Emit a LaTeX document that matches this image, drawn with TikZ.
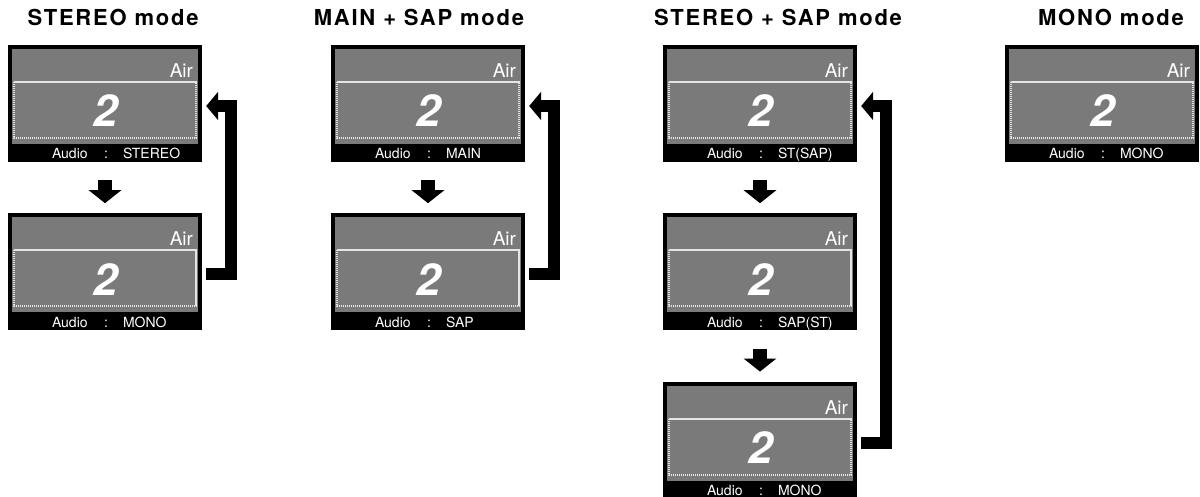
\documentclass[tikz,border=0pt]{standalone}
\usepackage{fontspec}
\setmainfont{TeX Gyre Heros}
\newfontfamily\titlefont[LetterSpace=8]{TeX Gyre Heros}
\usetikzlibrary{arrows.meta,calc,positioning}

\begin{document}
\begin{tikzpicture}[x=1pt, y=-1pt,
        screen/.style={fill=black, minimum width=194pt, minimum height=117pt, inner sep=0pt},
        panel/.style={fill=black!52},
        frame/.style={draw=black!10, line width=2pt, dash pattern=on 1.2pt off 0.8pt},
        title/.style={inner sep=0pt, anchor=base, font=\titlefont\bfseries\fontsize{22}{26}\selectfont},
        air/.style={inner sep=0pt, anchor=base east, text=white, font=\fontsize{19}{22}\selectfont},
        digit/.style={inner sep=0pt, anchor=base, text=white, font=\bfseries\itshape\fontsize{44}{50}\selectfont},
        band/.style={inner sep=0pt, anchor=base west, text=white, font=\fontsize{14}{16}\selectfont},
        down/.style={line width=14pt, -{Triangle[length=13pt,width=32pt]}, shorten <=18pt, shorten >=10pt},
        loop/.style={line width=12pt, line join=miter, -{Triangle[length=12pt,width=28pt]}}]
    \useasboundingbox (0,0) rectangle (1200,497);

    % titles
    \node[title] (t1) at (113,26) {STEREO mode};
    \node[title] (t2) at (419,26) {MAIN + SAP mode};
    \node[title] (t3) at (778,26) {STEREO + SAP mode};
    \node[title] (t4) at (1111,26) {MONO mode};

    % screens
    \node[screen] (st1) at (105,103.5) {};
    \node[screen, below=51pt of st1] (st2) {};
    \node[screen] (ms1) at (428,103.5) {};
    \node[screen, below=51pt of ms1] (ms2) {};
    \node[screen] (ss1) at (760,103.5) {};
    \node[screen, below=51pt of ss1] (ss2) {};
    \node[screen, below=51pt of ss2] (ss3) {};
    \node[screen] (mo1) at (1102,103.5) {};

    \foreach \s/\val in {st1/STEREO, st2/MONO, ms1/MAIN, ms2/SAP, ss1/ST(SAP), ss2/SAP(ST), ss3/MONO, mo1/MONO}{
        \fill[panel] ([shift={(4pt,-4pt)}]\s.north west) rectangle ([shift={(-4pt,-99pt)}]\s.north east);
        \draw[frame] ([shift={(6pt,-37pt)}]\s.north west) rectangle ([shift={(-6pt,-93pt)}]\s.north east);
        \node[air] (\s-air) at ([shift={(-9pt,-32.5pt)}]\s.north east) {Air};
        \node[digit] (\s-num) at ([shift={(1pt,-82pt)}]\s.north) {2};
        \node[band] (\s-lbl) at ([shift={(44pt,-114pt)}]\s.north west) {Audio};
        \node[band] (\s-col) at ([shift={(96pt,-114pt)}]\s.north west) {:};
        \node[band] (\s-val) at ([shift={(115pt,-114pt)}]\s.north west) {\val};
    }

    % step arrows
    \draw[down] (st1) -- (st2);
    \draw[down] (ms1) -- (ms2);
    \draw[down] (ss1) -- (ss2);
    \draw[down] (ss2) -- (ss3);

    % back to the first mode
    \draw[loop] ([shift={(4pt,-2.5pt)}]st2.east) -- ++(25,0) |- ([shift={(4pt,-2.5pt)}]st1.east);
    \draw[loop] ([shift={(4pt,-2.5pt)}]ms2.east) -- ++(25,0) |- ([shift={(4pt,-2.5pt)}]ms1.east);
    \draw[loop] ([shift={(4pt,-2.5pt)}]ss3.east) -- ++(25,0) |- ([shift={(4pt,-2.5pt)}]ss1.east);
\end{tikzpicture}
\end{document}
